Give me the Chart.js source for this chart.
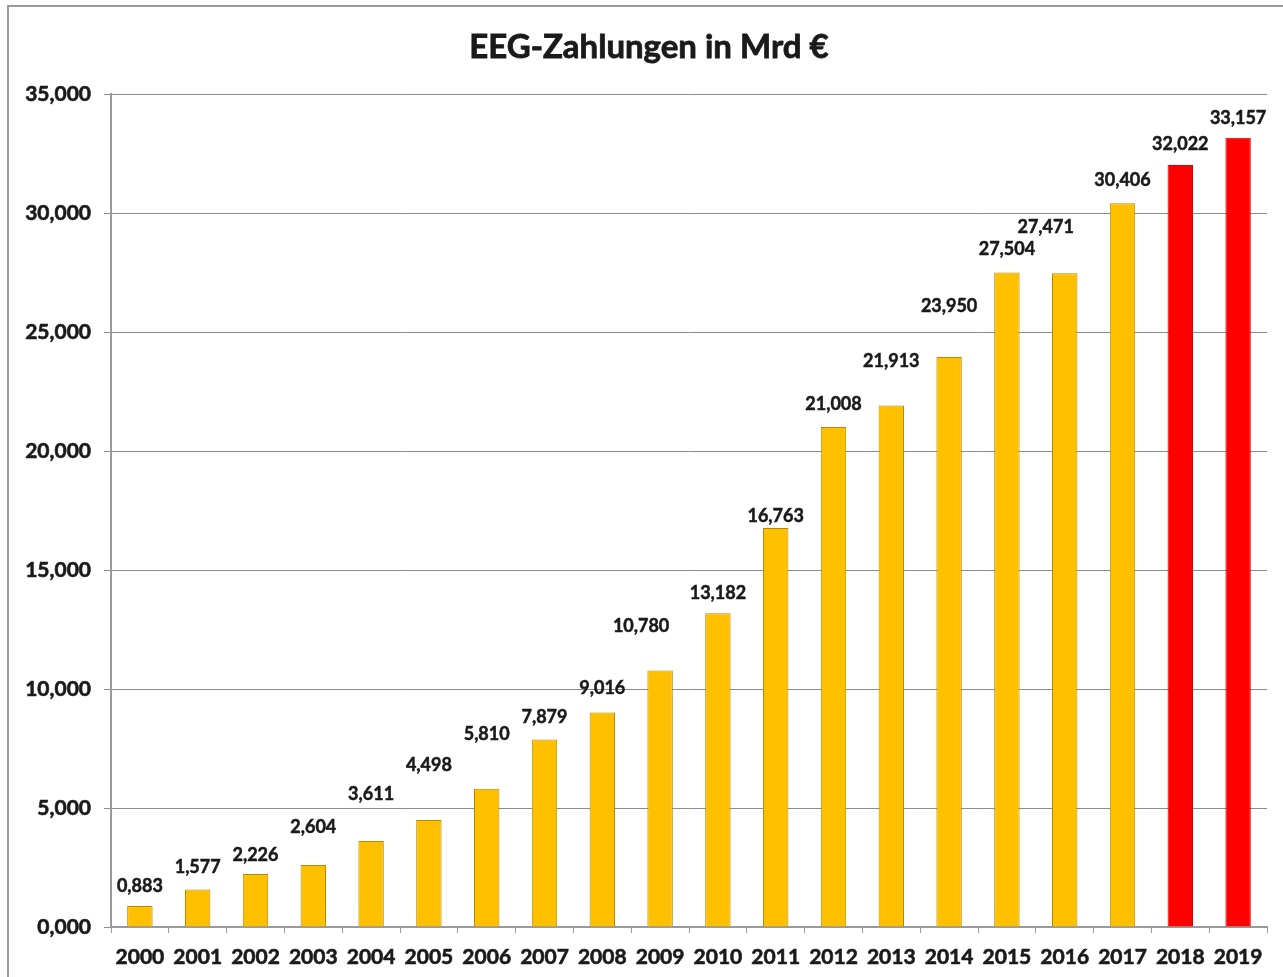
<!DOCTYPE html>
<html>
<head>
<meta charset="utf-8">
<title>EEG-Zahlungen in Mrd €</title>
<script src="https://cdn.jsdelivr.net/npm/chart.js@4"></script>
<style>
  html, body { margin:0; padding:0; background:#fff; }
  canvas { display:block; }
</style>
</head>
<body>
<canvas id="eegChart" width="1283" height="977"></canvas>
<script>
// Data
const years = ["2000","2001","2002","2003","2004","2005","2006","2007","2008","2009",
               "2010","2011","2012","2013","2014","2015","2016","2017","2018","2019"];
const payments = [883, 1577, 2226, 2604, 3611, 4498, 5810, 7879, 9016, 10780,
                  13182, 16763, 21008, 21913, 23950, 27504, 27471, 30406, 32022, 33157];
const redYears = ["2018","2019"];
const yTicks = [0, 5000, 10000, 15000, 20000, 25000, 30000, 35000];

// label nudges (px) - the labels in the original were hand placed
const labelLift  = [20,22,19,38,47,55,55,22,24,44,20,12,23,44,51,23,46,23,21,20];
const labelShift = [0,0,0,0,0,0,0,0,0,-19,0,0,0,0,0,0,-19,0,0,0];

const FONT = "Lato, 'Open Sans', 'DejaVu Sans', sans-serif";
const TXT = "#1a1a1a";

// 883 -> "0,883", 35000 -> "35,000"
function fmt(v){
  const k = Math.floor(v / 1000), r = v % 1000;
  return k + "," + String(r).padStart(3, "0");
}

const fills   = years.map(y => redYears.includes(y) ? "#FF0000" : "#FFC000");
const borders = years.map(y => redYears.includes(y) ? "#E00000" : "#B38A00");

/* ====== frame, title, value labels ====== */
const decor = {
  id: "decor",
  beforeDraw(chart){
    const c = chart.ctx;
    c.save();
    c.fillStyle = "#fff";
    c.fillRect(0, 0, chart.width, chart.height);
    c.strokeStyle = "#9a9a9a"; c.lineWidth = 2;
    c.beginPath();
    c.moveTo(8, chart.height); c.lineTo(8, 6); c.lineTo(chart.width, 6);
    c.stroke();
    c.restore();
  },
  afterDraw(chart){
    const c = chart.ctx;
    c.save();
    c.fillStyle = TXT; c.strokeStyle = TXT;
    c.textAlign = "center"; c.textBaseline = "middle";
    c.font = "bold 33px " + FONT;
    c.lineWidth = 0.8;
    c.fillText("EEG-Zahlungen in Mrd €", 649, 47);
    c.strokeText("EEG-Zahlungen in Mrd €", 649, 47);

    c.font = "bold 18px " + FONT;
    c.lineWidth = 0.5;
    const meta = chart.getDatasetMeta(0);
    meta.data.forEach((bar, i) => {
      const x = bar.x + labelShift[i], y = bar.y - labelLift[i];
      c.fillText(fmt(payments[i]), x, y);
      c.strokeText(fmt(payments[i]), x, y);
    });
    c.restore();
  }
};

new Chart(document.getElementById("eegChart"), {
  type: "bar",
  data: {
    labels: years,
    datasets: [{
      data: payments,
      backgroundColor: fills,
      borderColor: borders,
      borderWidth: 1,
      barPercentage: 0.44,
      categoryPercentage: 1
    }]
  },
  options: {
    responsive: false,
    animation: false,
    layout: { padding: { left: 0, top: 94, right: 16, bottom: 0 } },
    plugins: { legend: { display:false }, title: { display:false }, tooltip: { enabled:false } },
    scales: {
      x: {
        grid: { offset:true, drawOnChartArea:false, drawTicks:true, tickLength:6, color:"#9a9a9a" },
        border: { color:"#9a9a9a", width:2 },
        ticks: { color:TXT, font:{ family:FONT, size:21, weight:"bold" }, padding:12, maxRotation:0, autoSkip:false,
                 textStrokeColor:TXT, textStrokeWidth:0.6 },
        afterFit(scale){ scale.height = 50; }
      },
      y: {
        min: 0, max: 35000,
        afterBuildTicks(scale){ scale.ticks = yTicks.map(v => ({ value:v })); },
        grid: { color:"#8c8c8c", lineWidth:1, tickLength:7 },
        border: { color:"#9a9a9a", width:2 },
        ticks: { color:TXT, font:{ family:FONT, size:21, weight:"bold" }, padding:13, callback: v => fmt(v),
                 textStrokeColor:TXT, textStrokeWidth:0.6 },
        afterFit(scale){ scale.width = 111; }
      }
    }
  },
  plugins: [decor]
});
</script>
</body>
</html>
